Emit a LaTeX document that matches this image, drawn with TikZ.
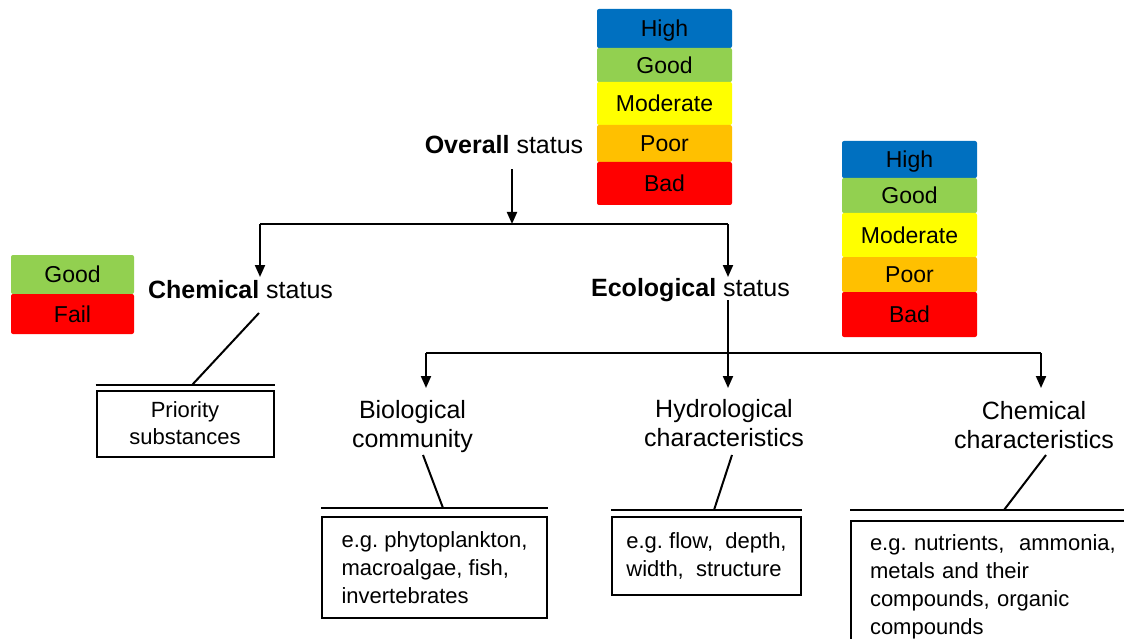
\documentclass[tikz,border=0pt]{standalone}
\usepackage{fontspec}
\setmainfont{Liberation Sans}
\usetikzlibrary{arrows.meta}
\definecolor{stHigh}{HTML}{0070C0}
\definecolor{stGood}{HTML}{92D050}
\definecolor{stModerate}{HTML}{FFFF00}
\definecolor{stPoor}{HTML}{FFC000}
\definecolor{stBad}{HTML}{FF0000}
\frenchspacing
\begin{document}
\begin{tikzpicture}[x=1pt,y=-1pt,
  cell/.style={minimum width=135pt, inner sep=0pt, rounded corners=2pt,
    text height=16.5pt, text depth=0pt, font=\fontsize{23}{27}\selectfont},
  head/.style={font=\fontsize{25}{30}\selectfont, inner sep=0pt},
  sub/.style={font=\fontsize{25}{29}\selectfont, inner sep=0pt, align=center},
  conn/.style={line width=2pt},
  arr/.style={conn, -{Triangle[width=10pt,length=12pt]}},
  sepline/.style={line width=2pt},
  infobox/.style={draw, line width=2pt, font=\fontsize{22}{28}\selectfont, align=left},
]
\useasboundingbox (0,0) rectangle (1124,639);
\fill[white] (0,0) rectangle (1124,639);
\clip (0,0) rectangle (1124,639);

% status scale for the overall status
\node[cell, fill=stHigh,     minimum height=39pt] (oHigh) at (664.5,28.5)  {High};
\node[cell, fill=stGood,     minimum height=34pt] (oGood) at (664.5,65)    {Good};
\node[cell, fill=stModerate, minimum height=43pt] (oMod)  at (664.5,103.5) {Moderate};
\node[cell, fill=stPoor,     minimum height=37pt] (oPoor) at (664.5,143.5) {Poor};
\node[cell, fill=stBad,      minimum height=43pt] (oBad)  at (664.5,183.5) {Bad};

% status scale for the ecological status
\node[cell, fill=stHigh,     minimum height=37pt] (eHigh) at (909.5,159.5) {High};
\node[cell, fill=stGood,     minimum height=35pt] (eGood) at (909.5,195.5) {Good};
\node[cell, fill=stModerate, minimum height=44pt] (eMod)  at (909.5,235)   {Moderate};
\node[cell, fill=stPoor,     minimum height=35pt] (ePoor) at (909.5,274.5) {Poor};
\node[cell, fill=stBad,      minimum height=45pt] (eBad)  at (909.5,314.5) {Bad};

% status scale for the chemical status
\node[cell, fill=stGood, minimum width=123pt, minimum height=39pt] (cGood) at (72.5,274.5) {Good};
\node[cell, fill=stBad,  minimum width=123pt, minimum height=40pt] (cFail) at (72.5,314)   {Fail};

% headings
\node[head, anchor=base] (overall) at (504,154)   {\textbf{Overall} status};
\node[head, anchor=base] (chem)    at (240.5,298) {\textbf{Chemical} status};
\node[head, anchor=base] (eco)     at (690.5,296) {\textbf{Ecological} status};

% quality elements
\node[sub] (bio)   at (412.5,426.5) {Biological\\community};
\node[sub] (hydro) at (724,423.5)   {Hydrological\\characteristics};
\node[sub] (cchar) at (1034,425)    {Chemical\\characteristics};

% detail boxes
\node[draw, line width=2pt, font=\fontsize{22}{27}\selectfont, align=center,
  minimum width=177pt, minimum height=66pt] (prio) at (185,423.5) {Priority\\substances};
\node[infobox, minimum width=225pt, minimum height=101pt] (bioBox) at (434.5,567.5)
  {e.g. phytoplankton,\\macroalgae, fish,\\invertebrates};
\node[infobox, minimum width=189pt, minimum height=78pt] (hydroBox) at (706.5,556)
  {e.g. flow,\ \ depth,\\width,\ \ structure};
\node[infobox, anchor=north west, text width=252pt, inner xsep=19pt,
  minimum height=132pt] (ccharBox) at (850,520)
  {e.g. nutrients,\ \ ammonia,\\metals and their\\compounds,\ organic\\compounds};

% bars above the detail boxes
\draw[sepline] ([yshift=5pt]prio.north west)      -- ([yshift=5pt]prio.north east);
\draw[sepline] ([yshift=8pt]bioBox.north west)    -- ([yshift=8pt]bioBox.north east);
\draw[sepline] ([yshift=6pt]hydroBox.north west)  -- ([yshift=6pt]hydroBox.north east);
\draw[sepline] ([yshift=10pt]ccharBox.north west) -- ([yshift=10pt]ccharBox.north east);

% junction points of the tree
\coordinate (top)  at (512,224);
\coordinate (topL) at (260,224);
\coordinate (topR) at (728,224);
\coordinate (ecoT) at (728,300);
\coordinate (midL) at (426,353);
\coordinate (midR) at (1041,353);

% overall status splits into chemical and ecological status
\draw[arr] (overall.south -| top) ++(0,15) -- (top);
\draw[conn] (topL) -- (topR);
\draw[arr] (topL) -- ++(0,53);
\draw[arr] (topR) -- ++(0,53);

% ecological status splits into its quality elements
\draw[arr] (ecoT) -- ++(0,88);
\draw[conn] (midL) -- (midR);
\draw[arr] (midL) -- ++(0,35);
\draw[arr] (midR) -- ++(0,35);

% links from labels to their detail boxes
\coordinate (chemTail)  at (259,313);
\coordinate (bioTail)   at (423,455);
\coordinate (hydroTail) at (732,455);
\coordinate (ccharTail) at (1046,455);
\draw[conn] (chemTail)  -- ([xshift=97pt,yshift=5pt]prio.north west);
\draw[conn] (bioTail)   -- ([xshift=122pt,yshift=8pt]bioBox.north west);
\draw[conn] (hydroTail) -- ([xshift=103pt,yshift=6pt]hydroBox.north west);
\draw[conn] (ccharTail) -- ([xshift=154pt,yshift=10pt]ccharBox.north west);
\end{tikzpicture}
\end{document}
